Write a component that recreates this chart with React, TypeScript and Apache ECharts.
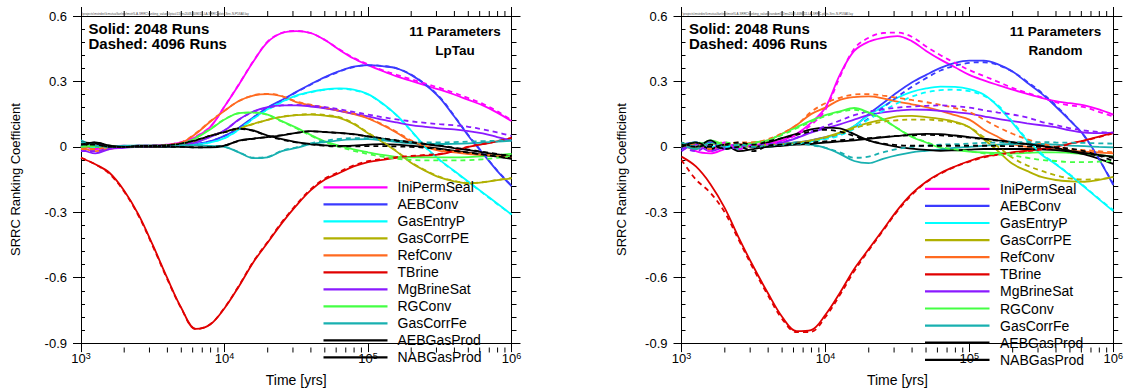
import React, { useEffect, useRef } from "react";
import * as echarts from "echarts";

const FONT = '"Liberation Sans", Arial, Helvetica, sans-serif';

// time grid (years)
const timeYears = [1000, 1259, 1585, 1995, 2512, 3162, 3981, 5012, 6310, 7943, 10000, 12589, 15849, 19953, 25119, 31623, 39811, 50119, 63096, 79433, 100000, 125893, 158489, 199526, 251189, 316228, 398107, 501187, 630957, 794328, 1000000];
// minor tick times on the log axis
const minorTickYears = [2000, 3000, 4000, 5000, 6000, 7000, 8000, 9000, 20000, 30000, 40000, 50000, 60000, 70000, 80000, 90000, 200000, 300000, 400000, 500000, 600000, 700000, 800000, 900000];

const paramNames = ["IniPermSeal", "AEBConv", "GasEntryP", "GasCorrPE", "RefConv", "TBrine", "MgBrineSat", "RGConv", "GasCorrFe", "AEBGasProd", "NABGasProd"];
const paramColors = ["#ff00ff", "#3a3aff", "#00ffff", "#b0b000", "#ff6a20", "#e00000", "#8a1aff", "#44ff44", "#18b0b0", "#000000", "#000000"];

const yTickLabels = ["-0.9", "-0.6", "-0.3", "0", "0.3", "0.6"];
const panelTitles = ["LpTau", "Random"];
const runLabels = ["Solid: 2048 Runs", "Dashed: 4096 Runs"];
const pathLabels = [
  "\\projects\\mstrdev\\lcmutua\\fan\\rev\\mstrl\\LA-SRRC\\ranking_values\\lptau\\11\\ms2048-4096\\11-LA-SRRC-plots-Srrc-N-P5SAll.lay",
  "\\projects\\mstrdev\\lcmutua\\fan\\rev\\mstrl\\LA-SRRC\\ranking_values\\random\\11\\ms2048-4096\\11-LA-SRRC-plots-Srrc-N-P5SAll.lay",
];

// ---------- LpTau, 2048 runs (solid)
const iniPermSeal_LP_2048 = [0.01, -0.01, 0.0, 0.005, 0.0, 0.005, 0.01, 0.02, 0.045, 0.09, 0.185, 0.285, 0.39, 0.48, 0.522, 0.531, 0.522, 0.49, 0.445, 0.405, 0.375, 0.348, 0.323, 0.302, 0.282, 0.262, 0.24, 0.215, 0.19, 0.157, 0.118];
const aebConv_LP_2048 = [0.01, 0.0, 0.0, 0.0, 0.0, 0.0, 0.002, 0.005, 0.012, 0.025, 0.05, 0.088, 0.135, 0.18, 0.215, 0.252, 0.287, 0.32, 0.347, 0.368, 0.375, 0.37, 0.36, 0.33, 0.285, 0.225, 0.14, 0.05, -0.03, -0.11, -0.18];
const gasEntryP_LP_2048 = [0.0, 0.005, 0.0, 0.0, 0.0, 0.0, 0.002, 0.005, 0.01, 0.02, 0.04, 0.08, 0.13, 0.172, 0.207, 0.235, 0.252, 0.263, 0.268, 0.262, 0.242, 0.2, 0.145, 0.075, 0.0, -0.06, -0.11, -0.16, -0.21, -0.26, -0.31];
const gasCorrPE_LP_2048 = [0.0, 0.0, -0.005, 0.0, 0.0, 0.0, 0.003, 0.01, 0.025, 0.05, 0.07, 0.085, 0.105, 0.124, 0.137, 0.145, 0.148, 0.143, 0.133, 0.105, 0.062, 0.022, -0.022, -0.073, -0.11, -0.14, -0.158, -0.168, -0.163, -0.153, -0.145];
const refConv_LP_2048 = [0.0, -0.02, -0.01, 0.0, 0.0, 0.003, 0.008, 0.018, 0.06, 0.115, 0.165, 0.21, 0.235, 0.242, 0.232, 0.205, 0.19, 0.178, 0.165, 0.15, 0.13, 0.1, 0.065, 0.025, 0.0, -0.018, -0.025, -0.033, -0.038, -0.043, -0.047];
const tBrine_LP_2048 = [-0.05, -0.08, -0.12, -0.2, -0.31, -0.45, -0.6, -0.74, -0.835, -0.815, -0.74, -0.64, -0.53, -0.44, -0.35, -0.27, -0.2, -0.15, -0.12, -0.09, -0.07, -0.06, -0.05, -0.045, -0.04, -0.035, -0.02, 0.0, 0.012, 0.025, 0.04];
const mgBrineSat_LP_2048 = [-0.01, -0.03, -0.01, -0.005, 0.0, 0.0, 0.003, 0.008, 0.02, 0.045, 0.075, 0.125, 0.162, 0.182, 0.19, 0.19, 0.185, 0.177, 0.165, 0.152, 0.14, 0.125, 0.112, 0.1, 0.092, 0.085, 0.08, 0.072, 0.062, 0.045, 0.028];
const rgConv_LP_2048 = [0.01, 0.0, 0.005, 0.0, 0.0, 0.003, 0.006, 0.012, 0.04, 0.08, 0.125, 0.155, 0.158, 0.148, 0.118, 0.088, 0.055, 0.025, 0.005, -0.012, -0.025, -0.037, -0.046, -0.048, -0.048, -0.048, -0.048, -0.047, -0.044, -0.038, -0.032];
const gasCorrFe_LP_2048 = [0.03, 0.005, 0.0, 0.005, 0.005, 0.005, 0.006, 0.008, 0.008, 0.004, 0.0, -0.025, -0.052, -0.048, -0.02, -0.005, 0.012, 0.022, 0.03, 0.034, 0.035, 0.03, 0.022, 0.016, 0.013, 0.013, 0.014, 0.016, 0.02, 0.024, 0.028];
const aebGasProd_LP_2048 = [0.02, 0.015, 0.0, 0.0, 0.005, 0.005, 0.008, 0.015, 0.03, 0.05, 0.068, 0.085, 0.075, 0.052, 0.035, 0.022, 0.013, 0.007, 0.004, 0.006, 0.01, 0.012, 0.01, 0.005, 0.0, -0.008, -0.018, -0.027, -0.036, -0.045, -0.055];
const nabGasProd_LP_2048 = [0.0, 0.02, 0.005, 0.0, 0.0, 0.0, 0.0, 0.0, -0.002, -0.002, 0.005, 0.028, 0.038, 0.045, 0.053, 0.064, 0.072, 0.068, 0.064, 0.058, 0.048, 0.038, 0.028, 0.02, 0.012, 0.004, -0.006, -0.015, -0.025, -0.035, -0.043];

// ---------- LpTau, 4096 runs (dashed)
const iniPermSeal_LP_4096 = [0.0, 0.005, -0.005, 0.0, 0.005, 0.005, 0.01, 0.022, 0.047, 0.092, 0.185, 0.287, 0.392, 0.482, 0.523, 0.532, 0.522, 0.49, 0.447, 0.408, 0.378, 0.352, 0.33, 0.31, 0.29, 0.27, 0.248, 0.223, 0.197, 0.163, 0.122];
const aebConv_LP_4096 = [0.0, 0.01, 0.0, 0.0, 0.0, 0.002, 0.003, 0.006, 0.013, 0.026, 0.05, 0.086, 0.132, 0.178, 0.214, 0.25, 0.285, 0.318, 0.345, 0.366, 0.374, 0.371, 0.36, 0.332, 0.287, 0.228, 0.143, 0.053, -0.028, -0.108, -0.178];
const gasEntryP_LP_4096 = [0.005, 0.0, 0.0, 0.0, 0.0, 0.0, 0.002, 0.005, 0.01, 0.02, 0.04, 0.078, 0.128, 0.17, 0.205, 0.233, 0.25, 0.262, 0.266, 0.26, 0.24, 0.198, 0.143, 0.073, -0.002, -0.062, -0.112, -0.162, -0.212, -0.262, -0.31];
const gasCorrPE_LP_4096 = [0.0, 0.005, 0.0, 0.0, 0.0, 0.0, 0.003, 0.01, 0.024, 0.048, 0.068, 0.084, 0.104, 0.124, 0.138, 0.146, 0.15, 0.146, 0.136, 0.108, 0.065, 0.025, -0.02, -0.07, -0.108, -0.138, -0.156, -0.166, -0.162, -0.152, -0.143];
const refConv_LP_4096 = [-0.01, -0.01, 0.0, 0.0, 0.002, 0.004, 0.009, 0.02, 0.062, 0.117, 0.166, 0.21, 0.236, 0.243, 0.233, 0.208, 0.193, 0.18, 0.167, 0.152, 0.132, 0.103, 0.068, 0.03, 0.004, -0.014, -0.022, -0.03, -0.036, -0.041, -0.045];
const tBrine_LP_4096 = [-0.05, -0.08, -0.125, -0.205, -0.315, -0.455, -0.605, -0.742, -0.836, -0.814, -0.738, -0.637, -0.527, -0.436, -0.345, -0.265, -0.195, -0.145, -0.115, -0.085, -0.066, -0.056, -0.047, -0.042, -0.037, -0.032, -0.018, 0.001, 0.013, 0.026, 0.041];
const mgBrineSat_LP_4096 = [-0.02, -0.02, -0.005, 0.0, 0.0, 0.002, 0.004, 0.01, 0.022, 0.046, 0.076, 0.124, 0.16, 0.18, 0.19, 0.192, 0.189, 0.182, 0.172, 0.16, 0.148, 0.136, 0.126, 0.117, 0.11, 0.104, 0.099, 0.092, 0.08, 0.066, 0.05];
const rgConv_LP_4096 = [0.0, 0.005, 0.0, 0.0, 0.002, 0.004, 0.007, 0.014, 0.042, 0.082, 0.126, 0.154, 0.157, 0.146, 0.116, 0.085, 0.052, 0.022, 0.0, -0.018, -0.033, -0.045, -0.055, -0.06, -0.062, -0.062, -0.062, -0.061, -0.057, -0.05, -0.042];
const gasCorrFe_LP_4096 = [0.02, 0.01, 0.0, 0.004, 0.005, 0.005, 0.006, 0.008, 0.008, 0.004, 0.0, -0.024, -0.05, -0.046, -0.018, -0.002, 0.016, 0.028, 0.036, 0.04, 0.04, 0.035, 0.028, 0.022, 0.02, 0.02, 0.022, 0.024, 0.026, 0.028, 0.03];
const aebGasProd_LP_4096 = [0.01, 0.02, 0.005, 0.0, 0.004, 0.005, 0.008, 0.016, 0.031, 0.05, 0.067, 0.083, 0.073, 0.05, 0.033, 0.02, 0.011, 0.005, 0.002, 0.002, 0.003, 0.003, 0.002, 0.0, -0.004, -0.01, -0.018, -0.026, -0.035, -0.044, -0.053];
const nabGasProd_LP_4096 = [0.01, 0.01, 0.0, 0.0, 0.0, 0.0, 0.0, 0.0, -0.002, -0.001, 0.006, 0.027, 0.037, 0.045, 0.054, 0.064, 0.071, 0.068, 0.063, 0.057, 0.048, 0.039, 0.03, 0.022, 0.014, 0.006, -0.004, -0.013, -0.023, -0.033, -0.042];

// ---------- Random, 2048 runs (solid)
const iniPermSeal_RD_2048 = [0.02, -0.02, -0.03, -0.01, 0.01, 0.0, 0.015, 0.03, 0.06, 0.11, 0.18, 0.33, 0.44, 0.482, 0.5, 0.508, 0.485, 0.44, 0.4, 0.365, 0.33, 0.305, 0.283, 0.262, 0.243, 0.225, 0.21, 0.2, 0.19, 0.172, 0.148];
const aebConv_RD_2048 = [0.01, 0.02, -0.01, 0.0, 0.01, 0.005, 0.01, 0.015, 0.02, 0.03, 0.045, 0.06, 0.095, 0.15, 0.2, 0.25, 0.295, 0.33, 0.362, 0.385, 0.395, 0.395, 0.378, 0.345, 0.295, 0.245, 0.185, 0.12, 0.05, -0.055, -0.175];
const gasEntryP_RD_2048 = [0.0, 0.02, 0.0, 0.01, 0.0, 0.01, 0.005, 0.01, 0.015, 0.025, 0.04, 0.06, 0.095, 0.145, 0.185, 0.225, 0.252, 0.268, 0.276, 0.275, 0.265, 0.24, 0.185, 0.11, 0.03, -0.035, -0.08, -0.13, -0.185, -0.24, -0.295];
const gasCorrPE_RD_2048 = [0.0, 0.01, 0.02, 0.0, 0.01, 0.0, 0.01, 0.015, 0.02, 0.03, 0.045, 0.065, 0.09, 0.11, 0.125, 0.14, 0.142, 0.136, 0.128, 0.115, 0.09, 0.035, -0.02, -0.078, -0.11, -0.138, -0.152, -0.158, -0.16, -0.152, -0.138];
const refConv_RD_2048 = [0.01, -0.01, 0.02, 0.0, 0.01, 0.02, 0.03, 0.06, 0.1, 0.15, 0.18, 0.215, 0.228, 0.231, 0.222, 0.207, 0.195, 0.182, 0.165, 0.145, 0.125, 0.08, 0.045, 0.013, 0.0, -0.008, -0.013, -0.018, -0.022, -0.026, -0.03];
const tBrine_RD_2048 = [-0.045, -0.09, -0.17, -0.28, -0.42, -0.55, -0.67, -0.78, -0.845, -0.84, -0.77, -0.67, -0.56, -0.47, -0.38, -0.29, -0.215, -0.16, -0.12, -0.09, -0.065, -0.045, -0.035, -0.025, -0.018, -0.01, 0.0, 0.015, 0.03, 0.047, 0.065];
const mgBrineSat_RD_2048 = [-0.02, 0.01, -0.02, 0.0, 0.01, 0.0, 0.01, 0.02, 0.04, 0.065, 0.085, 0.103, 0.125, 0.145, 0.158, 0.166, 0.171, 0.17, 0.165, 0.159, 0.152, 0.14, 0.128, 0.118, 0.108, 0.099, 0.09, 0.075, 0.065, 0.063, 0.065];
const rgConv_RD_2048 = [0.02, 0.0, 0.03, 0.01, 0.0, 0.02, 0.03, 0.06, 0.09, 0.12, 0.145, 0.163, 0.178, 0.158, 0.128, 0.085, 0.045, 0.02, -0.005, -0.015, -0.022, -0.026, -0.028, -0.03, -0.028, -0.025, -0.025, -0.028, -0.032, -0.038, -0.045];
const gasCorrFe_RD_2048 = [0.01, -0.01, 0.02, 0.0, -0.01, 0.01, 0.0, 0.01, 0.02, 0.01, -0.005, -0.032, -0.065, -0.075, -0.055, -0.038, -0.025, -0.018, -0.012, -0.005, 0.0, 0.005, 0.01, 0.013, 0.014, 0.013, 0.01, 0.006, 0.003, 0.0, -0.002];
const aebGasProd_RD_2048 = [0.02, 0.0, 0.03, -0.01, 0.01, 0.0, 0.02, 0.04, 0.06, 0.08, 0.088, 0.085, 0.058, 0.03, 0.012, 0.0, -0.008, -0.014, -0.018, -0.016, -0.013, -0.01, -0.01, -0.01, -0.01, -0.012, -0.015, -0.022, -0.035, -0.055, -0.078];
const nabGasProd_RD_2048 = [0.0, 0.02, -0.01, 0.01, -0.02, -0.01, 0.0, 0.005, 0.01, 0.013, 0.02, 0.025, 0.03, 0.037, 0.044, 0.05, 0.057, 0.059, 0.058, 0.052, 0.045, 0.038, 0.03, 0.022, 0.013, 0.005, -0.005, -0.018, -0.028, -0.037, -0.045];

// ---------- Random, 4096 runs (dashed)
const iniPermSeal_RD_4096 = [0.0, 0.01, -0.02, 0.02, -0.01, 0.01, 0.012, 0.028, 0.055, 0.1, 0.17, 0.32, 0.45, 0.5, 0.522, 0.524, 0.505, 0.46, 0.42, 0.385, 0.352, 0.325, 0.298, 0.27, 0.248, 0.228, 0.205, 0.19, 0.182, 0.16, 0.14];
const aebConv_RD_4096 = [-0.01, 0.01, 0.02, 0.0, 0.0, 0.01, 0.008, 0.012, 0.018, 0.028, 0.04, 0.055, 0.085, 0.13, 0.18, 0.23, 0.275, 0.315, 0.35, 0.372, 0.385, 0.388, 0.375, 0.345, 0.3, 0.25, 0.19, 0.122, 0.048, -0.055, -0.17];
const gasEntryP_RD_4096 = [0.01, 0.0, 0.015, 0.0, 0.01, 0.005, 0.008, 0.01, 0.014, 0.022, 0.035, 0.052, 0.083, 0.125, 0.165, 0.2, 0.23, 0.25, 0.26, 0.262, 0.255, 0.235, 0.19, 0.115, 0.035, -0.03, -0.078, -0.128, -0.182, -0.238, -0.29];
const gasCorrPE_RD_4096 = [0.01, 0.0, 0.01, 0.02, 0.0, 0.005, 0.01, 0.012, 0.018, 0.028, 0.042, 0.06, 0.085, 0.102, 0.115, 0.122, 0.125, 0.125, 0.12, 0.11, 0.09, 0.045, 0.0, -0.05, -0.085, -0.11, -0.13, -0.145, -0.15, -0.148, -0.14];
const refConv_RD_4096 = [0.0, 0.015, -0.01, 0.01, 0.02, 0.02, 0.035, 0.062, 0.1, 0.16, 0.2, 0.225, 0.24, 0.242, 0.235, 0.225, 0.215, 0.205, 0.192, 0.178, 0.16, 0.125, 0.09, 0.06, 0.035, 0.015, 0.0, -0.01, -0.015, -0.02, -0.025];
const tBrine_RD_4096 = [-0.06, -0.15, -0.21, -0.3, -0.43, -0.56, -0.68, -0.79, -0.85, -0.848, -0.78, -0.68, -0.57, -0.475, -0.385, -0.295, -0.22, -0.163, -0.123, -0.092, -0.068, -0.048, -0.036, -0.027, -0.02, -0.012, -0.002, 0.013, 0.028, 0.045, 0.062];
const mgBrineSat_RD_4096 = [0.0, -0.02, 0.01, -0.01, 0.0, 0.01, 0.012, 0.022, 0.042, 0.07, 0.095, 0.12, 0.145, 0.162, 0.172, 0.18, 0.185, 0.188, 0.19, 0.186, 0.18, 0.168, 0.157, 0.148, 0.135, 0.115, 0.1, 0.085, 0.075, 0.068, 0.065];
const rgConv_RD_4096 = [0.0, 0.02, 0.01, 0.02, 0.01, 0.015, 0.03, 0.055, 0.085, 0.115, 0.14, 0.16, 0.17, 0.155, 0.125, 0.085, 0.048, 0.022, 0.0, -0.012, -0.02, -0.03, -0.035, -0.04, -0.05, -0.06, -0.065, -0.07, -0.07, -0.068, -0.065];
const gasCorrFe_RD_4096 = [0.02, 0.0, 0.01, -0.01, 0.01, 0.0, 0.005, 0.012, 0.015, 0.008, -0.005, -0.025, -0.05, -0.045, -0.025, -0.01, 0.0, 0.005, 0.01, 0.012, 0.015, 0.018, 0.02, 0.021, 0.022, 0.022, 0.02, 0.019, 0.018, 0.016, 0.015];
const aebGasProd_RD_4096 = [0.0, 0.02, 0.0, 0.01, 0.02, 0.01, 0.025, 0.04, 0.055, 0.07, 0.078, 0.07, 0.05, 0.03, 0.015, 0.008, 0.005, 0.005, 0.005, 0.005, 0.005, 0.005, 0.004, 0.003, 0.002, 0.0, -0.002, -0.008, -0.02, -0.04, -0.065];
const nabGasProd_RD_4096 = [0.01, 0.0, 0.01, -0.01, 0.0, -0.02, 0.005, 0.01, 0.015, 0.02, 0.025, 0.03, 0.035, 0.04, 0.045, 0.05, 0.053, 0.055, 0.053, 0.048, 0.042, 0.035, 0.028, 0.02, 0.012, 0.004, -0.006, -0.018, -0.03, -0.04, -0.05];

const panelData = [
  {
    solid: [iniPermSeal_LP_2048, aebConv_LP_2048, gasEntryP_LP_2048, gasCorrPE_LP_2048, refConv_LP_2048, tBrine_LP_2048, mgBrineSat_LP_2048, rgConv_LP_2048, gasCorrFe_LP_2048, aebGasProd_LP_2048, nabGasProd_LP_2048],
    dashed: [iniPermSeal_LP_4096, aebConv_LP_4096, gasEntryP_LP_4096, gasCorrPE_LP_4096, refConv_LP_4096, tBrine_LP_4096, mgBrineSat_LP_4096, rgConv_LP_4096, gasCorrFe_LP_4096, aebGasProd_LP_4096, nabGasProd_LP_4096],
  },
  {
    solid: [iniPermSeal_RD_2048, aebConv_RD_2048, gasEntryP_RD_2048, gasCorrPE_RD_2048, refConv_RD_2048, tBrine_RD_2048, mgBrineSat_RD_2048, rgConv_RD_2048, gasCorrFe_RD_2048, aebGasProd_RD_2048, nabGasProd_RD_2048],
    dashed: [iniPermSeal_RD_4096, aebConv_RD_4096, gasEntryP_RD_4096, gasCorrPE_RD_4096, refConv_RD_4096, tBrine_RD_4096, mgBrineSat_RD_4096, rgConv_RD_4096, gasCorrFe_RD_4096, aebGasProd_RD_4096, nabGasProd_RD_4096],
  },
];

// layout (pixels)
const grids = [
  { left: 81, top: 16, width: 430.5, height: 331.5 },
  { left: 681.5, top: 16, width: 432, height: 331.5 },
];
const legendLayout = [
  { x1: 323.5, x2: 387.5, tx: 397.5, y0: 187.3, step: 17 },
  { x1: 925, x2: 989.5, tx: 1000, y0: 188.8, step: 17.1 },
];
const yNameGaps = [59, 54];
const X_PER_GRID = 2;
const Y_PER_GRID = 4;

function buildBaseGraphic(): any[] {
  const graphic: any[] = [];
  grids.forEach((g, gi) => {
    const g0 = g.left;
    graphic.push({ type: "text", x: g0 + 7.5, y: 28, z: 50, style: { text: runLabels[0], fontSize: 15, fontWeight: "bold", fontFamily: FONT, fill: "#000", align: "left", verticalAlign: "middle" } });
    graphic.push({ type: "text", x: g0 + 7.5, y: 43, z: 50, style: { text: runLabels[1], fontSize: 15, fontWeight: "bold", fontFamily: FONT, fill: "#000", align: "left", verticalAlign: "middle" } });
    graphic.push({ type: "text", x: g0 + 374, y: 31, z: 50, style: { text: "11 Parameters", fontSize: 13.5, fontWeight: "bold", fontFamily: FONT, fill: "#000", align: "center", verticalAlign: "middle" } });
    graphic.push({ type: "text", x: g0 + 374, y: 50.5, z: 50, style: { text: panelTitles[gi], fontSize: 13.5, fontWeight: "bold", fontFamily: FONT, fill: "#000", align: "center", verticalAlign: "middle" } });
    graphic.push({ type: "text", x: g0 + 1, y: 13.5, z: 50, style: { text: pathLabels[gi], fontSize: 3, fontFamily: FONT, fill: "#444", align: "left", verticalAlign: "middle" } });
    const L = legendLayout[gi];
    paramNames.forEach((nm, k) => {
      const y = L.y0 + k * L.step;
      graphic.push({ type: "line", z: 50, shape: { x1: L.x1, y1: y, x2: L.x2, y2: y }, style: { stroke: paramColors[k], lineWidth: 2.2 } });
      graphic.push({ type: "text", x: L.tx, y: y, z: 50, style: { text: nm, fontSize: 14, fontFamily: FONT, fill: "#000", align: "left", verticalAlign: "middle" } });
    });
  });
  return graphic;
}

function buildOption() {
  const xAxis: any[] = [];
  const yAxis: any[] = [];
  const series: any[] = [];
  const black = { color: "#000", width: 1 };

  grids.forEach((g, gi) => {
    xAxis.push({
      type: "log", logBase: 10, min: 1000, max: 1000000, gridIndex: gi, position: "bottom",
      axisLine: { show: true, onZero: false, lineStyle: black },
      axisTick: { show: true, length: 9, lineStyle: black },
      splitLine: { show: false },
      axisLabel: {
        show: true, margin: 8,
        formatter: (v: number) => `{b|10}{s|${Math.round(Math.log10(v))}}`,
        rich: {
          b: { fontSize: 13, fontFamily: FONT, color: "#000", lineHeight: 14, verticalAlign: "bottom" },
          s: { fontSize: 9, fontFamily: FONT, color: "#000", lineHeight: 10, verticalAlign: "top", padding: [0, 0, 8, 0] },
        },
      },
      name: "Time [yrs]", nameLocation: "middle", nameGap: 28,
      nameTextStyle: { fontSize: 14, fontFamily: FONT, color: "#000" },
    });
    xAxis.push({
      type: "log", logBase: 10, min: 1000, max: 1000000, gridIndex: gi, position: "top",
      axisLine: { show: true, onZero: false, lineStyle: black }, splitLine: { show: false }, axisLabel: { show: false },
      axisTick: { show: true, length: 9, lineStyle: black },
    });

    yAxis.push({
      type: "value", min: -0.9, max: 0.6, interval: 0.3, gridIndex: gi, position: "left",
      axisLine: { show: true, onZero: false, lineStyle: black },
      axisTick: { show: true, length: 8, lineStyle: black },
      splitLine: { show: false },
      axisLabel: { show: true, margin: 14, fontSize: 13, fontFamily: FONT, color: "#000",
        formatter: (v: number) => yTickLabels[Math.round((v + 0.9) / 0.3)] },
      name: "SRRC Ranking Coefficient", nameLocation: "middle", nameGap: yNameGaps[gi],
      nameTextStyle: { fontSize: 13, fontFamily: FONT, color: "#000" },
    });
    yAxis.push({
      type: "value", min: -0.9, max: 0.6, interval: 0.06, gridIndex: gi, position: "left",
      axisLine: { show: false, onZero: false }, splitLine: { show: false }, axisLabel: { show: false },
      axisTick: { show: true, inside: true, length: 4, lineStyle: black },
    });
    yAxis.push({
      type: "value", min: -0.9, max: 0.6, interval: 0.3, gridIndex: gi, position: "right",
      axisLine: { show: true, onZero: false, lineStyle: black }, splitLine: { show: false }, axisLabel: { show: false },
      axisTick: { show: true, length: 9, lineStyle: black },
    });
    yAxis.push({
      type: "value", min: -0.9, max: 0.6, interval: 0.06, gridIndex: gi, position: "right",
      axisLine: { show: false, onZero: false }, splitLine: { show: false }, axisLabel: { show: false },
      axisTick: { show: true, length: 5, lineStyle: black },
    });

    const pd = panelData[gi];
    (["solid", "dashed"] as const).forEach((kind) => {
      pd[kind].forEach((vals, k) => {
        series.push({
          type: "line",
          name: `${paramNames[k]} ${kind === "solid" ? 2048 : 4096}`,
          xAxisIndex: gi * X_PER_GRID, yAxisIndex: gi * Y_PER_GRID,
          data: timeYears.map((t, i) => [t, vals[i]]),
          showSymbol: false, symbol: "none", smooth: 0.35,
          lineStyle: { color: paramColors[k], width: 1.8, type: kind === "solid" ? "solid" : [5, 4] },
          z: kind === "solid" ? 3 : 4,
          silent: true,
        });
      });
    });
  });

  return {
    animation: false,
    backgroundColor: "#fff",
    grid: grids.map((g) => ({ ...g, containLabel: false })),
    xAxis, yAxis, series, graphic: buildBaseGraphic(),
  };
}

export default function App() {
  const ref = useRef<HTMLDivElement>(null);
  useEffect(() => {
    document.body.style.margin = "0";
    if (!ref.current) return;
    const chart = echarts.init(ref.current, undefined, { renderer: "svg" });
    chart.setOption(buildOption() as any);
    // minor log ticks, placed through the log axis scale
    const tickEls: any[] = [];
    grids.forEach((g, gi) => {
      const bottom = g.top + g.height;
      minorTickYears.forEach((t) => {
        const px = chart.convertToPixel({ xAxisIndex: gi * X_PER_GRID } as any, t) as unknown as number;
        if (typeof px !== "number" || !isFinite(px)) return;
        tickEls.push({ type: "line", z: 60, silent: true, shape: { x1: px, y1: bottom, x2: px, y2: bottom + 5 }, style: { stroke: "#000", lineWidth: 1 } });
        tickEls.push({ type: "line", z: 60, silent: true, shape: { x1: px, y1: g.top, x2: px, y2: g.top - 5 }, style: { stroke: "#000", lineWidth: 1 } });
      });
    });
    chart.setOption({ graphic: [...buildBaseGraphic(), ...tickEls] } as any);
    return () => chart.dispose();
  }, []);
  return <div ref={ref} style={{ width: 1126, height: 392, position: "absolute", left: 0, top: 0 }} />;
}
